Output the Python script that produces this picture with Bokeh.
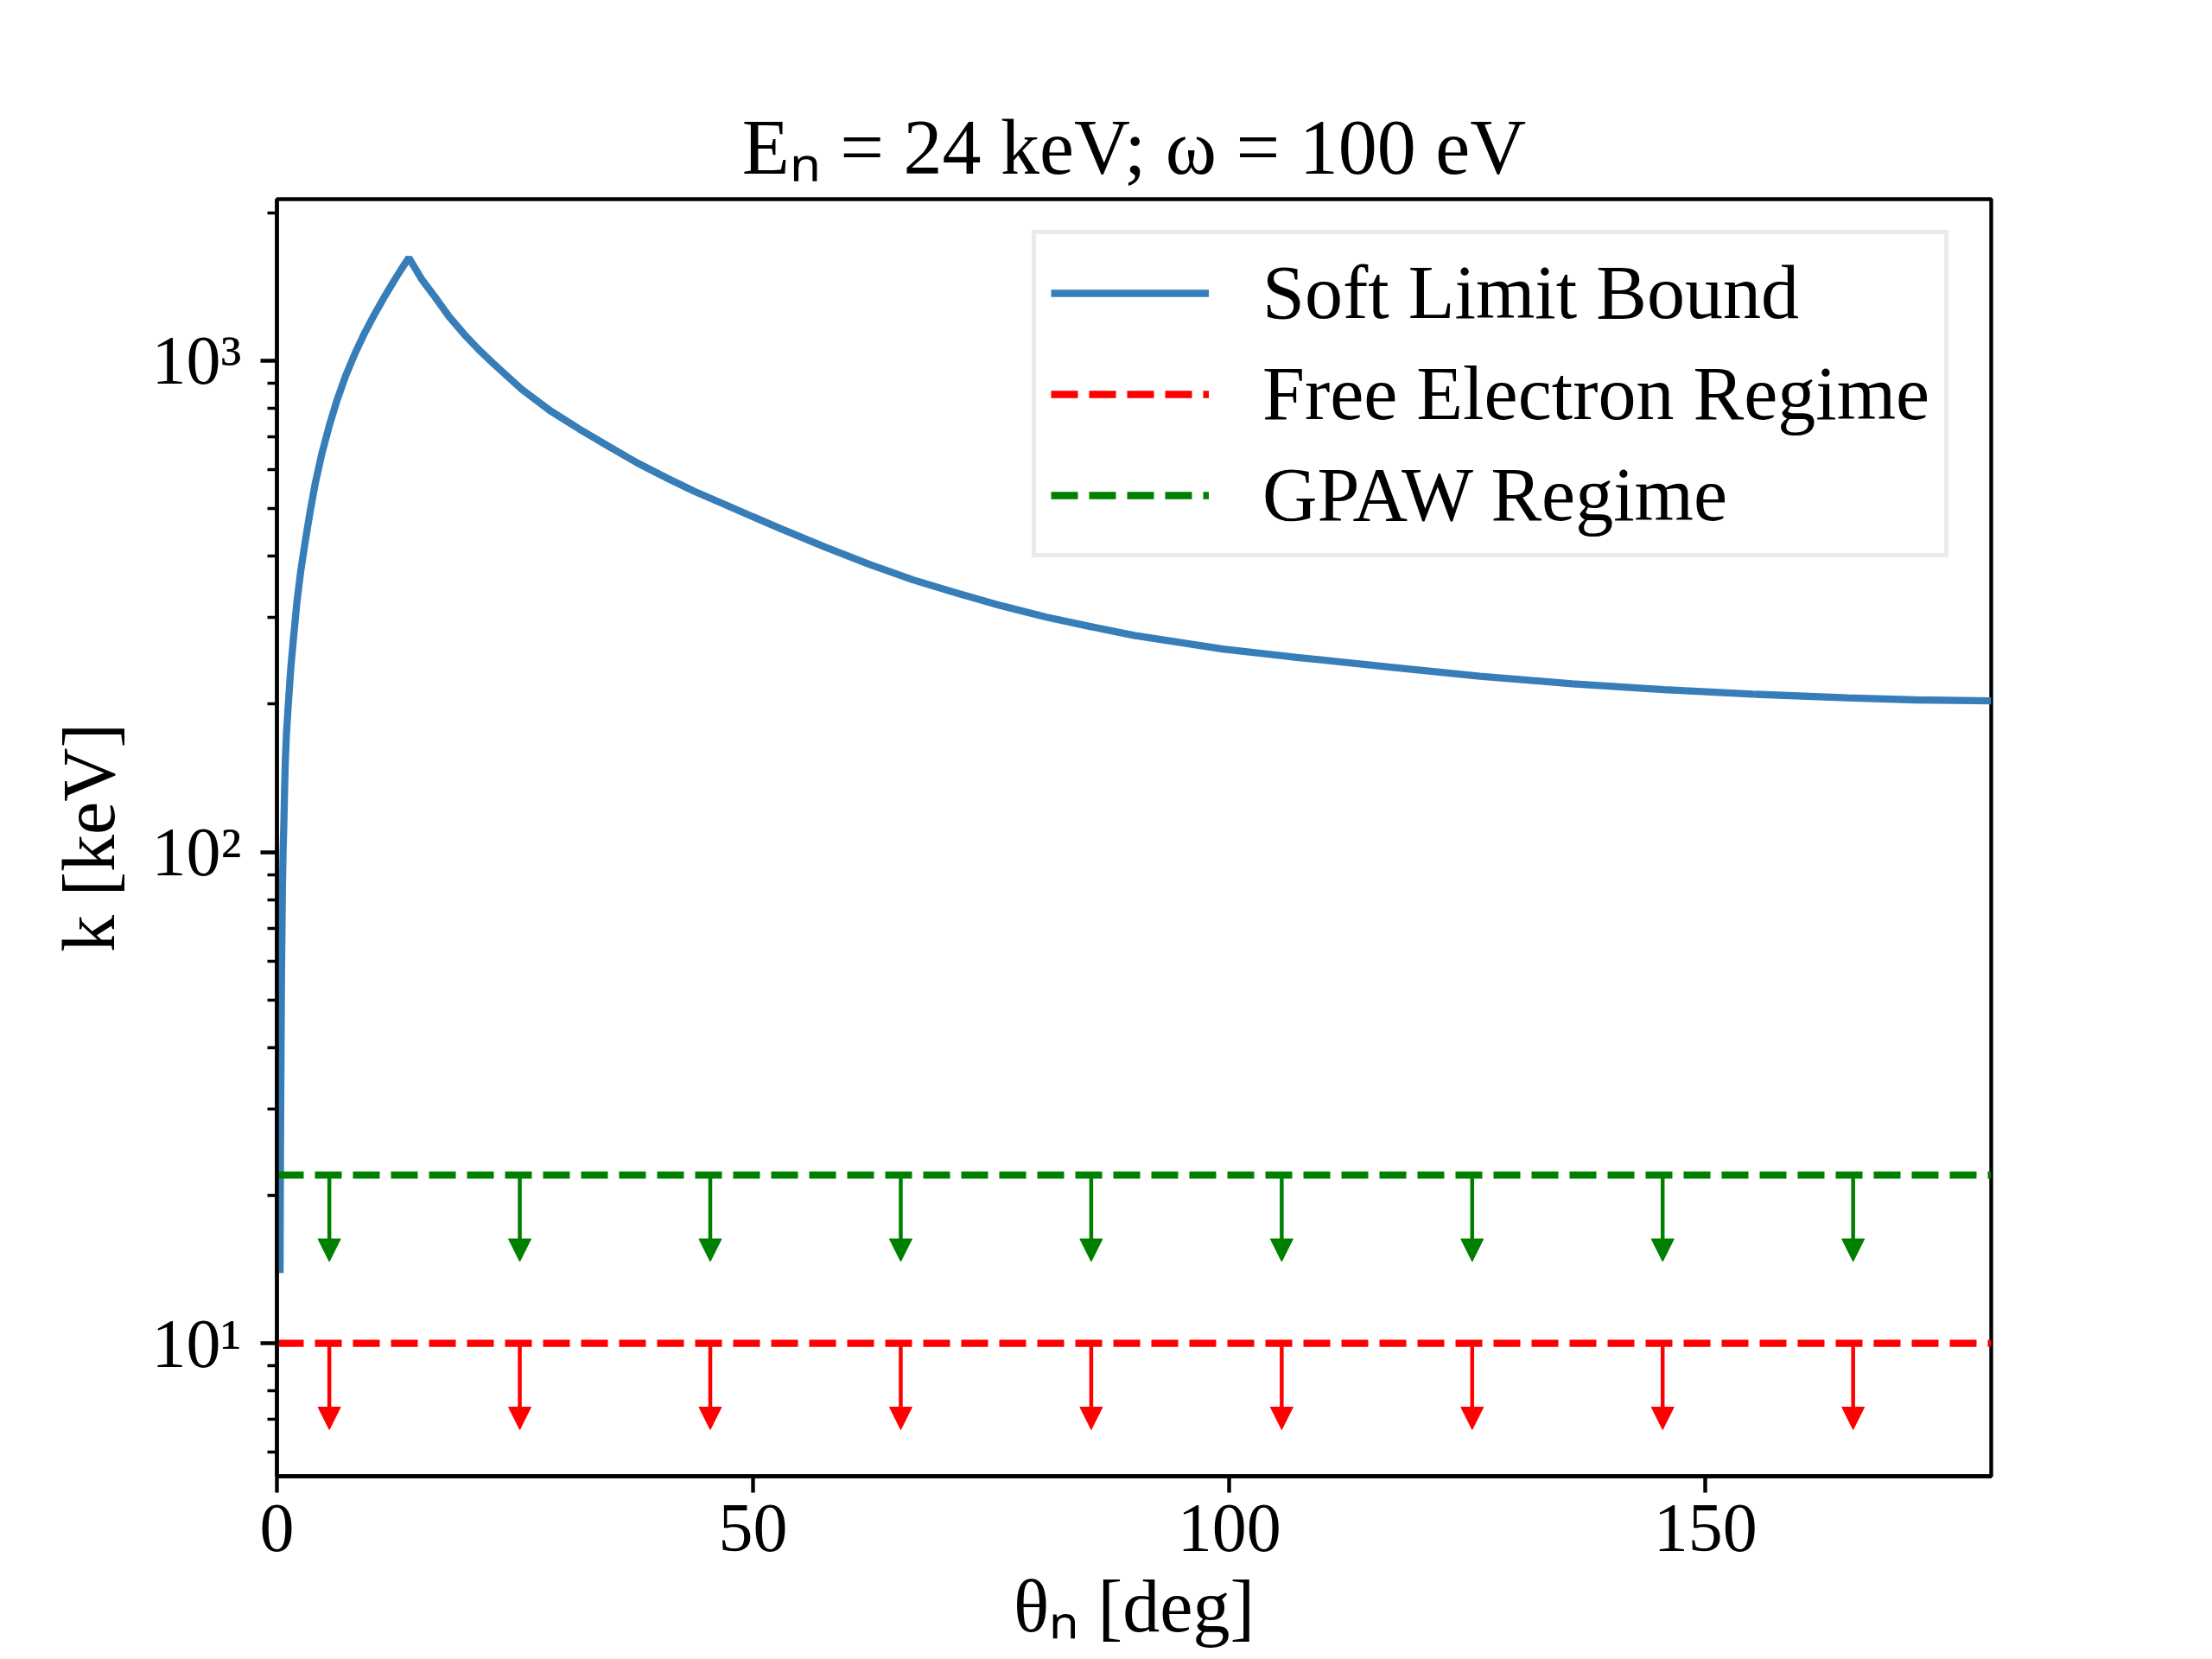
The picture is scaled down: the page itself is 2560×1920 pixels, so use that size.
from bokeh.plotting import figure
from bokeh.models import Range1d, FixedTicker, Arrow, NormalHead, ColumnDataSource, Title
from bokeh.embed import file_html
from bokeh.resources import INLINE

# ---- data ----
theta = [0.33, 0.37, 0.42, 0.48, 0.53, 0.58, 0.65, 0.73, 0.80, 0.88, 1.0, 1.18,
         1.45, 1.75, 2.1, 2.5, 3.0, 3.5, 4.0, 4.7, 5.5, 6.3, 7.2, 8.2, 9.2,
         10.2, 11.2, 12.3, 13.1, 13.85,
         15.2, 16.6, 18.1, 19.7, 21.2, 22.7, 25.7, 28.7, 31.75, 34.8, 37.8,
         40.8, 43.85, 46.9, 49.9, 52.9, 57.5, 62.2, 66.8, 71.5, 76.1, 80.7,
         85.3, 90.0, 99.3, 107.1, 116.7, 126.3, 136.0, 145.6, 155.0, 164.9,
         172.0, 180.0]
k_soft = [13.9, 24, 36, 56, 70, 86, 101, 115, 133, 153, 174, 198,
          236, 274, 323, 373, 432, 495, 560, 645, 738, 830, 930, 1035, 1138,
          1238, 1340, 1455, 1540, 1620,
          1465, 1348, 1228, 1130, 1053, 988, 875, 791, 726, 670, 620,
          579, 542, 511, 482, 455, 418, 385, 358, 336, 317, 301,
          288, 276, 259, 249, 238, 228, 220, 214, 209.5, 206,
          204, 203]

free_electron_k = 10.0
gpaw_k = 22.0
arrow_theta = [5.5, 25.5, 45.5, 65.5, 85.5, 105.5, 125.5, 145.5, 165.5]
free_tip = 6.67
gpaw_tip = 14.67

x_ticks = [0, 50, 100, 150]
y_ticks = [10, 100, 1000]
y_minor = [6, 7, 8, 9, 20, 30, 40, 50, 60, 70, 80, 90,
           200, 300, 400, 500, 600, 700, 800, 900, 2000]
y_tick_labels = {10: "10\u00b9", 100: "10\u00b2", 1000: "10\u00b3"}

title_text = "E\u2099 = 24 keV; \u03c9 = 100 eV"
x_label = "\u03b8\u2099 [deg]"
y_label = "k [keV]"

FONT = "Liberation Serif"
FS = "86px"

p = figure(width=2552, height=1912, x_range=Range1d(0, 180),
           y_range=Range1d(5.36, 2132.6), y_axis_type="log",
           output_backend="svg", toolbar_location=None,
           min_border_left=320, min_border_right=248,
           min_border_top=230, min_border_bottom=204)
p.title = Title(text=title_text, align="center", text_font=FONT,
                text_font_size="90px", text_font_style="normal", text_color="black",
                standoff=22)
p.background_fill_color = "white"
p.border_fill_color = "white"
p.grid.visible = False
p.outline_line_color = "black"
p.outline_line_width = 4.4

for ax in (p.xaxis[0], p.yaxis[0]):
    ax.axis_line_width = 4.4
    ax.axis_line_color = "black"
    ax.major_tick_out = 19
    ax.major_tick_in = 0
    ax.minor_tick_out = 11
    ax.minor_tick_in = 0
    ax.major_tick_line_width = 4.4
    ax.minor_tick_line_width = 3.3
    ax.major_label_text_font = FONT
    ax.major_label_text_font_size = "80px"
    ax.major_label_text_color = "black"
    ax.axis_label_text_font = FONT
    ax.axis_label_text_font_size = FS
    ax.axis_label_text_font_style = "normal"
    ax.axis_label_text_color = "black"

p.xaxis.ticker = FixedTicker(ticks=x_ticks, minor_ticks=[])
p.yaxis.ticker = FixedTicker(ticks=y_ticks, minor_ticks=y_minor)
p.yaxis.major_label_overrides = y_tick_labels
p.xaxis.major_label_standoff = 14
p.yaxis.major_label_standoff = 22
p.xaxis.axis_label = x_label
p.yaxis.axis_label = y_label
p.xaxis.axis_label_standoff = 13
p.yaxis.axis_label_standoff = 22

# curve
p.line(theta, k_soft, line_color="#377eb8", line_width=8.3, legend_label="Soft Limit Bound")

# free electron regime
p.line([0, 180], [free_electron_k, free_electron_k], line_color="red", line_width=8.3,
       line_dash="31 13", legend_label="Free Electron Regime")
src_r = ColumnDataSource(dict(x0=arrow_theta, x1=arrow_theta,
                              y0=[free_electron_k] * len(arrow_theta),
                              y1=[free_tip] * len(arrow_theta)))
p.add_layout(Arrow(end=NormalHead(size=26, fill_color="red", line_color="red", line_width=1),
                   x_start="x0", y_start="y0", x_end="x1", y_end="y1", source=src_r,
                   line_color="red", line_width=4.5))

# GPAW regime
p.line([0, 180], [gpaw_k, gpaw_k], line_color="green", line_width=8.3,
       line_dash="31 13", legend_label="GPAW Regime")
src_g = ColumnDataSource(dict(x0=arrow_theta, x1=arrow_theta,
                              y0=[gpaw_k] * len(arrow_theta),
                              y1=[gpaw_tip] * len(arrow_theta)))
p.add_layout(Arrow(end=NormalHead(size=26, fill_color="green", line_color="green", line_width=1),
                   x_start="x0", y_start="y0", x_end="x1", y_end="y1", source=src_g,
                   line_color="green", line_width=4.5))

# legend
lg = p.legend[0]
lg.location = (874, 1063)
lg.margin = 0
lg.padding = 17
lg.spacing = 16
lg.glyph_width = 183
lg.glyph_height = 40
lg.label_standoff = 62
lg.label_text_font = FONT
lg.label_text_font_size = "88px"
lg.label_text_color = "black"
lg.border_line_color = "#d6d6d6"
lg.border_line_width = 5
lg.background_fill_color = "white"
lg.background_fill_alpha = 0.8

open("out.html", "w").write(file_html(p, INLINE))
